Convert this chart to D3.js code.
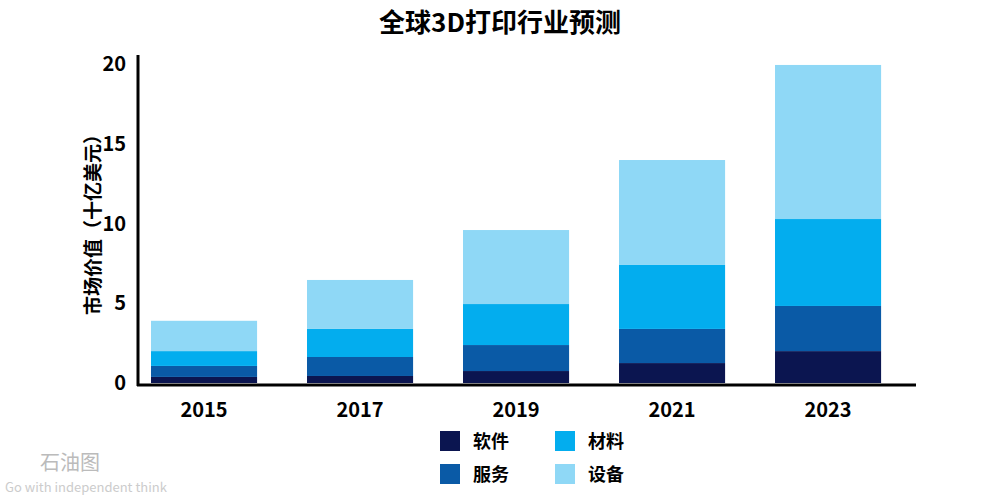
<!DOCTYPE html><html><head><meta charset="utf-8"><script src="https://cdn.jsdelivr.net/npm/d3@7"></script>
<style>body{margin:0;background:#fff}text{font-family:"Noto Sans CJK SC","Liberation Sans",sans-serif}</style></head><body><svg width="1000" height="500"></svg>
<script>
const years=["2015","2017","2019","2021","2023"];
const series=["软件","服务","材料","设备"];
const software=[0.38,0.44,0.75,1.25,2.0];
const services=[0.69,1.19,1.63,2.14,2.83];
const materials=[0.93,1.76,2.57,4.01,5.45];
const equipment=[1.9,3.07,4.64,6.58,9.66];
const yTicks=[0,5,10,15,20];
const colors=["#0b1550","#0a5aa6","#03adee","#8fd8f6"];
const svg=d3.select("svg");
const x=d3.scaleBand().domain(years).range([135.4,896.7]).paddingInner(0.32).paddingOuter(0.1);
const y=d3.scaleLinear().domain([0,20]).range([383,64]);
const rows=years.map((yr,i)=>({year:yr,"软件":software[i],"服务":services[i],"材料":materials[i],"设备":equipment[i]}));
const stack=d3.stack().keys(series)(rows);
stack.forEach((s,k)=>svg.append("g").attr("fill",colors[k]).selectAll("rect").data(s).join("rect")
 .attr("x",d=>x(d.data.year)).attr("width",x.bandwidth()).attr("y",d=>y(d[1])).attr("height",d=>y(d[0])-y(d[1])));
svg.append("line").attr("x1",138).attr("x2",138).attr("y1",55).attr("y2",386).attr("stroke","#000").attr("stroke-width",3);
svg.append("line").attr("x1",137).attr("x2",916).attr("y1",385).attr("y2",385).attr("stroke","#000").attr("stroke-width",3);
svg.selectAll(".yt").data(yTicks).join("text").attr("x",126).attr("y",d=>y(d)+7).attr("text-anchor","end").attr("font-size",20).attr("font-weight","bold").text(d=>d);
svg.selectAll(".xt").data(years).join("text").attr("x",d=>x(d)+x.bandwidth()/2).attr("y",417).attr("text-anchor","middle").attr("font-size",20).attr("font-weight","bold").text(d=>d);
svg.append("text").attr("x",500).attr("y",32).attr("text-anchor","middle").attr("font-size",26).attr("font-weight","bold").text("全球3D打印行业预测");
svg.append("text").attr("transform","translate(100,220) rotate(-90)").attr("text-anchor","middle").attr("font-size",19).attr("font-weight","bold").text("市场价值（十亿美元）");
const leg=[[0,440,431],[2,555,431],[1,440,464],[3,555,464]];
leg.forEach(([k,lx,ly])=>{svg.append("rect").attr("x",lx).attr("y",ly).attr("width",20).attr("height",20).attr("fill",colors[k]);
 svg.append("text").attr("x",lx+33).attr("y",ly+17).attr("font-size",18).attr("font-weight","bold").text(series[k]);});
svg.append("text").attr("x",40).attr("y",470).attr("font-size",20).attr("fill","#bbb").text("石油图");
svg.append("text").attr("x",5).attr("y",492).attr("font-size",13).attr("fill","#ccc").text("Go with independent think");
</script></body></html>
